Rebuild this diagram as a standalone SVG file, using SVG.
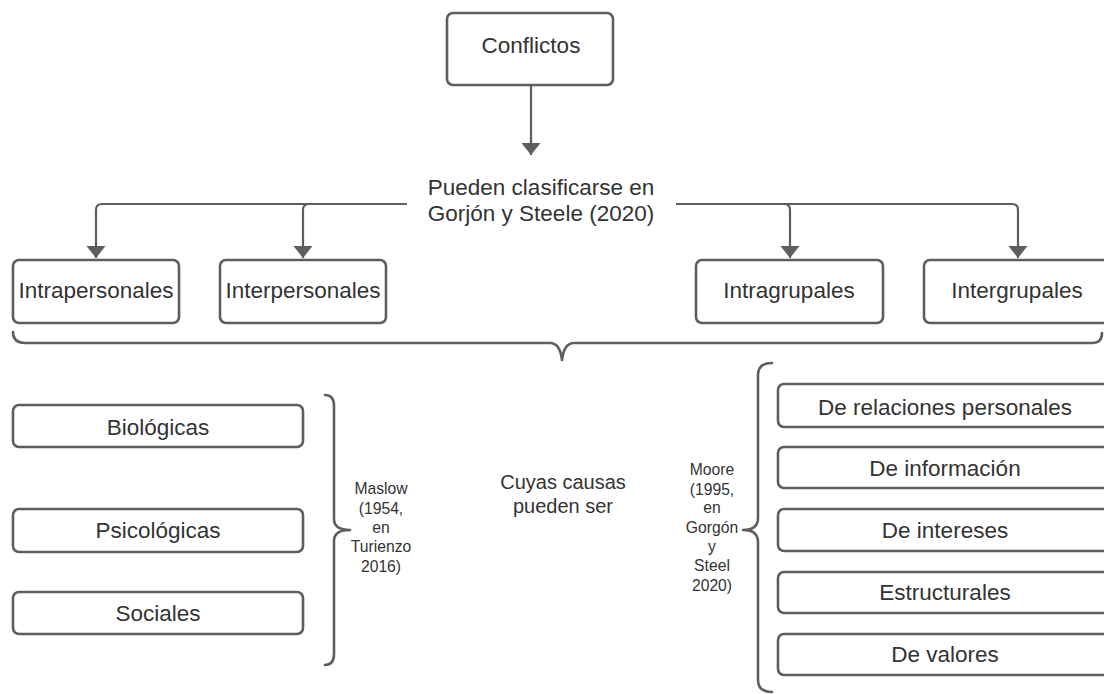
<svg xmlns="http://www.w3.org/2000/svg" width="1104" height="694" viewBox="0 0 1104 694">
  <defs>
    <marker id="arrow" viewBox="0 0 12 19" refX="12" refY="9.5" markerWidth="12" markerHeight="19" markerUnits="userSpaceOnUse" orient="auto">
      <path d="M0,0 L12,9.5 L0,19 Z" fill="#5e5e5e"/>
    </marker>
  </defs>
  <style>
    .box { fill: #ffffff; stroke: #5e5e5e; stroke-width: 2.6; }
    .line { fill: none; stroke: #5e5e5e; stroke-width: 2.2; }
    .brace { fill: none; stroke: #5e5e5e; stroke-width: 2.6; stroke-linejoin: round; stroke-linecap: round; }
    text { font-family: "Liberation Sans", Arial, sans-serif; fill: #333333; text-anchor: middle; }
    .t { font-size: 22.5px; }
    .m { font-size: 20px; }
    .s { font-size: 15.7px; }
  </style>
  <rect width="1104" height="694" fill="#ffffff"/>

  <!-- connectors -->
  <g id="connectors">
    <path class="line" d="M531,85 V155" marker-end="url(#arrow)"/>
    <path class="line" d="M407,204 H102 Q96,204 96,210 V258" marker-end="url(#arrow)"/>
    <path class="line" d="M407,204 H309 Q303,204 303,210 V258" marker-end="url(#arrow)"/>
    <path class="line" d="M676,204 H784 Q790,204 790,210 V258" marker-end="url(#arrow)"/>
    <path class="line" d="M676,204 H1012 Q1018,204 1018,210 V258" marker-end="url(#arrow)"/>
  </g>

  <!-- braces -->
  <g id="braces">
    <path class="brace" d="M13,332 Q13,343 25,343 H550 Q560,343 562,360 Q564,343 574,343 H1092 Q1102,343 1102,333"/>
    <path class="brace" d="M325,395 Q334,395 334,406 V519 Q334,530 350,530 Q334,530 334,541 V654 Q334,665 325,665"/>
    <path class="brace" d="M772,363 Q758,363 758,375 V518 Q758,530 743,530 Q758,530 758,542 V680 Q758,692 772,692"/>
  </g>

  <g id="conflictos">
    <rect class="box" x="447" y="13" width="166" height="72" rx="6"/>
    <text class="t" x="531" y="53">Conflictos</text>
  </g>

  <g id="clasificacion">
    <text class="t" x="541" y="195">Pueden clasificarse en</text>
    <text class="t" x="541" y="221">Gorjón y Steele (2020)</text>
  </g>

  <g id="intrapersonales">
    <rect class="box" x="13" y="260" width="166" height="63" rx="6"/>
    <text class="t" x="96" y="298">Intrapersonales</text>
  </g>
  <g id="interpersonales">
    <rect class="box" x="220" y="260" width="166" height="63" rx="6"/>
    <text class="t" x="303" y="298">Interpersonales</text>
  </g>
  <g id="intragrupales">
    <rect class="box" x="696" y="260" width="187" height="63" rx="6"/>
    <text class="t" x="789" y="298">Intragrupales</text>
  </g>
  <g id="intergrupales">
    <rect class="box" x="924" y="260" width="186" height="63" rx="6"/>
    <text class="t" x="1017" y="298">Intergrupales</text>
  </g>

  <g id="causas">
    <text class="m" x="563" y="489">Cuyas causas</text>
    <text class="m" x="563" y="513">pueden ser</text>
  </g>

  <g id="biologicas">
    <rect class="box" x="13" y="405" width="290" height="42" rx="6"/>
    <text class="t" x="158" y="435">Biológicas</text>
  </g>
  <g id="psicologicas">
    <rect class="box" x="13" y="509" width="290" height="43" rx="6"/>
    <text class="t" x="158" y="538">Psicológicas</text>
  </g>
  <g id="sociales">
    <rect class="box" x="13" y="592" width="290" height="42" rx="6"/>
    <text class="t" x="158" y="621">Sociales</text>
  </g>

  <g id="maslow">
    <text class="s" x="381" y="494">Maslow</text>
    <text class="s" x="381" y="514">(1954,</text>
    <text class="s" x="381" y="533">en</text>
    <text class="s" x="381" y="552">Turienzo</text>
    <text class="s" x="381" y="572">2016)</text>
  </g>

  <g id="moore">
    <text class="s" x="712" y="475">Moore</text>
    <text class="s" x="712" y="495">(1995,</text>
    <text class="s" x="712" y="513">en</text>
    <text class="s" x="712" y="533">Gorgón</text>
    <text class="s" x="712" y="552">y</text>
    <text class="s" x="712" y="571">Steel</text>
    <text class="s" x="712" y="591">2020)</text>
  </g>

  <g id="relaciones">
    <rect class="box" x="778" y="384" width="334" height="43" rx="6"/>
    <text class="t" x="945" y="415">De relaciones personales</text>
  </g>
  <g id="informacion">
    <rect class="box" x="778" y="447" width="334" height="41" rx="6"/>
    <text class="t" x="945" y="476">De información</text>
  </g>
  <g id="intereses">
    <rect class="box" x="778" y="509" width="334" height="42" rx="6"/>
    <text class="t" x="945" y="538">De intereses</text>
  </g>
  <g id="estructurales">
    <rect class="box" x="778" y="572" width="334" height="41" rx="6"/>
    <text class="t" x="945" y="600">Estructurales</text>
  </g>
  <g id="valores">
    <rect class="box" x="778" y="634" width="334" height="41" rx="6"/>
    <text class="t" x="945" y="662">De valores</text>
  </g>
</svg>
